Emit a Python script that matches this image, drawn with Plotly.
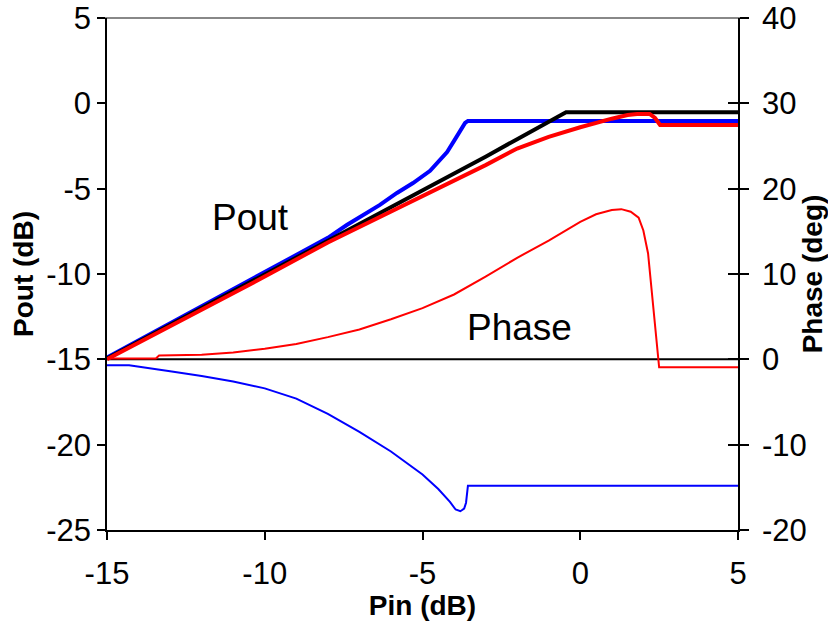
import plotly.graph_objects as go

# Output power (dB) versus input power (dB)
pin_pout_blue = [-15, -12, -10, -8, -7.4, -6.89, -6.35, -5.81, -5.3, -4.76, -4.5, -4.22, -4.0, -3.8, -3.65, -3.56, 5]
pout_blue = [-14.9, -11.9, -9.9, -7.88, -7.13, -6.54, -5.95, -5.25, -4.67, -3.95, -3.45, -2.85, -2.2, -1.55, -1.15, -1.03, -1.03]

pin_pout_black = [-15, -12, -10, -8, -6, -5, -4, -3, -2, -1, -0.55, -0.45, 5]
pout_black = [-14.95, -12.0, -10.05, -8.05, -6.1, -5.1, -4.12, -3.13, -2.1, -1.08, -0.57, -0.52, -0.52]

pin_pout_red = [-15, -12, -10, -8, -6, -5, -4, -3, -2, -1, 0, 0.5, 1.0, 1.5, 1.8, 2.2, 2.37, 2.53, 5]
pout_red = [-15, -12.1, -10.15, -8.15, -6.35, -5.45, -4.55, -3.62, -2.65, -1.97, -1.4, -1.13, -0.9, -0.68, -0.62, -0.62, -0.86, -1.27, -1.27]

# Phase (deg) versus input power (dB)
pin_phase_red = [-15, -13.45, -13.35, -12, -11, -10, -9, -8, -7, -6, -5, -4, -3, -2, -1,
                 0, 0.5, 1.0, 1.3, 1.6, 1.85, 2.0, 2.15, 2.5, 5]
phase_red = [0.1, 0.1, 0.45, 0.55, 0.8, 1.25, 1.8, 2.6, 3.5, 4.7, 6.0, 7.6, 9.7, 11.9, 13.9,
             16.1, 17.0, 17.5, 17.6, 17.3, 16.6, 15.1, 12.4, -0.94, -0.94]

pin_phase_blue = [-15, -14.3, -13, -12, -11, -10, -9, -8, -7, -6, -5, -4.5, -4.13,
                  -3.95, -3.8, -3.68, -3.62, -3.59, -3.56, 5]
phase_blue = [-0.7, -0.7, -1.4, -1.95, -2.6, -3.4, -4.6, -6.4, -8.5, -10.8, -13.5, -15.2, -16.7,
              -17.6, -17.8, -17.5, -16.8, -16.0, -14.8, -14.8]

# Axis ticks and their labels (plain hyphen minus signs)
x_ticks = [-15, -10, -5, 0, 5]
x_tick_text = ["-15", "-10", "-5", "0", "5"]
pout_ticks = [-25, -20, -15, -10, -5, 0, 5]
pout_tick_text = ["-25", "-20", "-15", "-10", "-5", "0", "5"]
phase_ticks = [-20, -10, 0, 10, 20, 30, 40]
phase_tick_text = ["-20", "-10", "0", "10", "20", "30", "40"]

FONT = "Arial, 'Liberation Sans', sans-serif"

fig = go.Figure()

# phase curves (thin, right axis)
fig.add_trace(go.Scatter(x=pin_phase_blue, y=phase_blue, yaxis="y2", mode="lines",
                         line=dict(color="#0000FF", width=2), showlegend=False))
fig.add_trace(go.Scatter(x=pin_phase_red, y=phase_red, yaxis="y2", mode="lines",
                         line=dict(color="#FF0000", width=2), showlegend=False))

# output power curves (thick, left axis)
fig.add_trace(go.Scatter(x=pin_pout_blue, y=pout_blue, mode="lines",
                         line=dict(color="#0000FF", width=4), showlegend=False))
fig.add_trace(go.Scatter(x=pin_pout_black, y=pout_black, mode="lines",
                         line=dict(color="#000000", width=4), showlegend=False))
fig.add_trace(go.Scatter(x=pin_pout_red, y=pout_red, mode="lines",
                         line=dict(color="#FF0000", width=4), showlegend=False))

axis_common = dict(showgrid=False, zeroline=False, showline=True, linecolor="black",
                   linewidth=1.5, tickcolor="black", tickwidth=1.5, automargin=False,
                   tickfont=dict(family=FONT, size=31, color="black"))

fig.update_layout(
    width=828, height=621,
    margin=dict(l=107, r=90, t=18, b=91),
    paper_bgcolor="white", plot_bgcolor="white",
    font=dict(family=FONT, color="black"),
    xaxis=dict(range=[-15, 5], tickvals=x_ticks, ticktext=x_tick_text,
               ticks="outside", ticklen=8, ticklabelstandoff=7,
               title=dict(text="<b>Pin (dB)</b>", font=dict(family=FONT, size=28), standoff=0),
               **axis_common),
    yaxis=dict(range=[-25, 5], tickvals=pout_ticks, ticktext=pout_tick_text,
               ticks="outside", ticklen=8,
               title=dict(text="<b>Pout (dB)</b>", font=dict(family=FONT, size=28), standoff=4),
               **axis_common),
    yaxis2=dict(range=[-20, 40], tickvals=phase_ticks, ticktext=phase_tick_text,
                ticks="outside", ticklen=9, ticklabelstandoff=7,
                overlaying="y", side="right", anchor="x",
                title=dict(text="<b>Phase (deg)</b>", font=dict(family=FONT, size=28), standoff=2),
                **axis_common),
    yaxis3=dict(range=[-20, 40], tickvals=phase_ticks, ticks="inside", ticklen=10,
                overlaying="y", side="right", anchor="x", showticklabels=False,
                showgrid=False, zeroline=False, showline=False,
                tickcolor="black", tickwidth=1.5),
    showlegend=False,
)

# carrier trace so the inside tick marks of the right axis are drawn
fig.add_trace(go.Scatter(x=[None], y=[None], yaxis="y3", showlegend=False, hoverinfo="skip"))

# gray top border and zero-phase reference line
fig.add_shape(type="line", xref="paper", yref="paper", x0=-0.013, x1=1.014, y0=1, y1=1,
              line=dict(color="#888888", width=2), layer="below")
fig.add_shape(type="line", xref="x", yref="y2", x0=-15, x1=5, y0=0, y1=0,
              line=dict(color="black", width=2), layer="below")

fig.add_annotation(x=-10.44, y=-6.66, text="Pout", showarrow=False,
                   font=dict(family=FONT, size=37, color="black"))
fig.add_annotation(x=-1.91, y=-13.16, text="Phase", showarrow=False,
                   font=dict(family=FONT, size=37, color="black"))

fig.write_html("out.html")
